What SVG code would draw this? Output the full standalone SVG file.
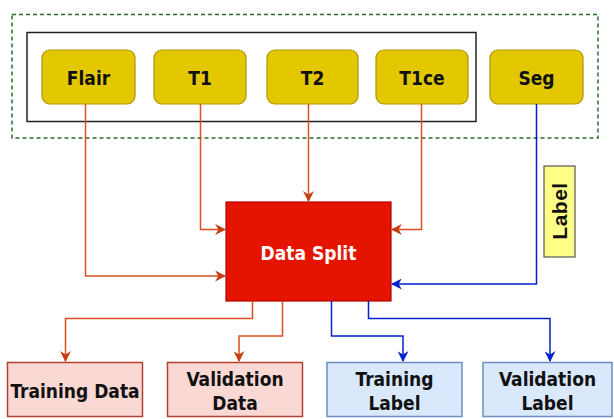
<svg xmlns="http://www.w3.org/2000/svg" width="614" height="419" viewBox="0 0 614 419">
  <style>
    text { font-family: "DejaVu Sans", "Liberation Sans", sans-serif; font-stretch: condensed; font-weight: bold; text-anchor: middle; }
    .mod rect { fill: #e3c800; stroke: #b09500; stroke-width: 1.2; }
    .mod text { font-size: 19px; fill: #111; }
    .split rect { fill: #e51400; stroke: #b20000; stroke-width: 1.2; }
    .split text { font-size: 19px; fill: #fff; }
    .out-data rect { fill: #fad9d5; stroke: #ae4132; stroke-width: 1.5; }
    .out-label rect { fill: #dae8fc; stroke: #6c8ebf; stroke-width: 1.5; }
    .out-data text, .out-label text { font-size: 19px; fill: #111; }
    .or { fill: none; stroke: #d9501e; stroke-width: 1.5; }
    .bl { fill: none; stroke: #0022cc; stroke-width: 1.5; }
  </style>
  <defs>
    <marker id="arrOr" viewBox="0 0 10 10" refX="9" refY="5" markerWidth="11" markerHeight="11" markerUnits="userSpaceOnUse" orient="auto">
      <path d="M0,0 L10,5 L0,10 L3,5 Z" fill="#c73d12"/>
    </marker>
    <marker id="arrBl" viewBox="0 0 10 10" refX="9" refY="5" markerWidth="11" markerHeight="11" markerUnits="userSpaceOnUse" orient="auto">
      <path d="M0,0 L10,5 L0,10 L3,5 Z" fill="#0022cc"/>
    </marker>
  </defs>

  <rect id="group-outer" x="12" y="14.5" width="586" height="123.5" fill="none" stroke="#2a6e2a" stroke-width="1.5" stroke-dasharray="4 3"/>
  <rect id="group-inputs" x="27" y="32.5" width="449" height="89" fill="none" stroke="#222" stroke-width="1.5"/>

  <g id="flair" class="mod"><rect x="42" y="50" width="93" height="54" rx="8"/><text x="88.5" y="85">Flair</text></g>
  <g id="t1" class="mod"><rect x="154" y="50" width="92" height="54" rx="8"/><text x="200" y="85">T1</text></g>
  <g id="t2" class="mod"><rect x="267" y="50" width="91" height="54" rx="8"/><text x="312.5" y="85">T2</text></g>
  <g id="t1ce" class="mod"><rect x="376" y="50" width="92" height="54" rx="8"/><text x="422" y="85">T1ce</text></g>
  <g id="seg" class="mod"><rect x="490" y="50" width="93" height="54" rx="8"/><text x="536.5" y="85">Seg</text></g>

  <g id="data-split" class="split"><rect x="226" y="202" width="165" height="99"/><text x="308.5" y="260">Data Split</text></g>

  <g id="label-tag">
    <rect x="544" y="166" width="31" height="91" fill="#ffff88" stroke="#555" stroke-width="1.2"/>
    <text x="0" y="0" transform="translate(567,211) rotate(-90)" style="font-family:'Liberation Sans', Arial, sans-serif; font-stretch:normal; font-size:21px; fill:#111; letter-spacing:0.5px">Label</text>
  </g>

  <g id="training-data" class="out-data"><rect x="7.5" y="362.5" width="135" height="54"/><text x="75" y="398">Training Data</text></g>
  <g id="validation-data" class="out-data"><rect x="167.5" y="362.5" width="135" height="54"/><text x="235" y="386">Validation</text><text x="235" y="410">Data</text></g>
  <g id="training-label" class="out-label"><rect x="327" y="362.5" width="135" height="54"/><text x="394.5" y="386">Training</text><text x="394.5" y="410">Label</text></g>
  <g id="validation-label" class="out-label"><rect x="483" y="362.5" width="129" height="54"/><text x="547.5" y="386">Validation</text><text x="547.5" y="410">Label</text></g>

  <g id="connectors">
    <path class="or" d="M85.5,104 V276 H225" marker-end="url(#arrOr)"/>
    <path class="or" d="M200.5,104 V229.5 H225" marker-end="url(#arrOr)"/>
    <path class="or" d="M308.5,104 V201" marker-end="url(#arrOr)"/>
    <path class="or" d="M421.5,104 V229.5 H392" marker-end="url(#arrOr)"/>
    <path class="bl" d="M536.5,104 V284 H392" marker-end="url(#arrBl)"/>
    <path class="or" d="M252.5,301 V318.5 H65.5 V361" marker-end="url(#arrOr)"/>
    <path class="or" d="M282.5,301 V336 H239 V361" marker-end="url(#arrOr)"/>
    <path class="bl" d="M331.5,301 V336 H403 V361" marker-end="url(#arrBl)"/>
    <path class="bl" d="M368.5,301 V318.5 H550 V361" marker-end="url(#arrBl)"/>
  </g>
</svg>
